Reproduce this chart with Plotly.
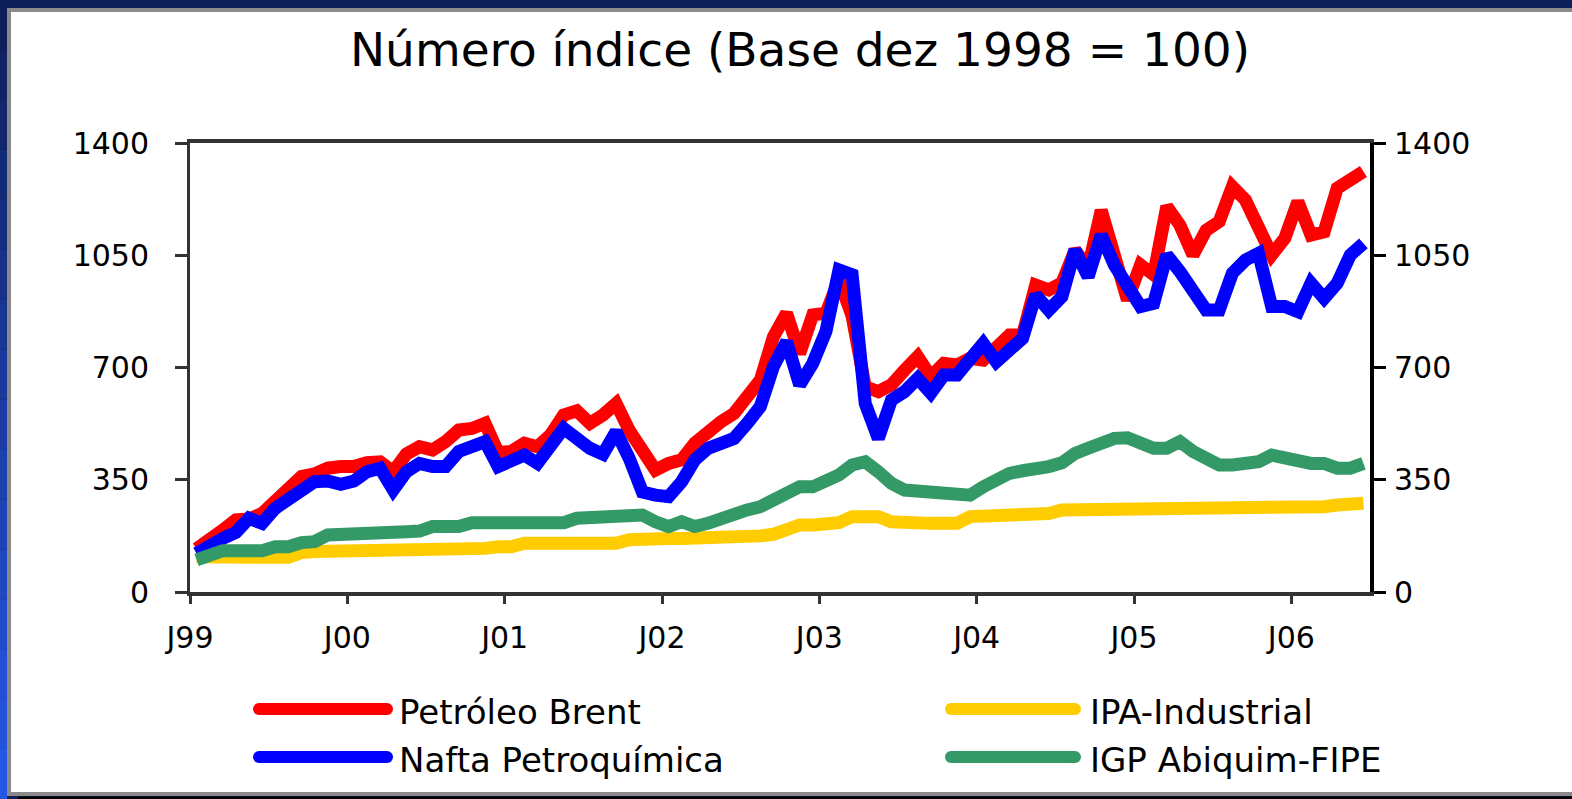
import plotly.graph_objects as go

# ---------------- data (monthly, Jan 1999 .. Jun 2006) ----------------
month_index = list(range(90))
tick_pos = [0, 12, 24, 36, 48, 60, 72, 84]
tick_text = ["J99", "J00", "J01", "J02", "J03", "J04", "J05", "J06"]
y_ticks = [0, 350, 700, 1050, 1400]

brent = [135, 170, 193, 225, 228, 245, 287, 320, 360, 368,
         386, 391, 391, 403, 406, 375, 430, 453, 443, 469,
         505, 510, 526, 435, 438, 464, 453, 490, 552, 565,
         526, 552, 588, 504, 432, 380, 401, 412, 464, 500,
         531, 557, 604, 661, 796, 869, 744, 864, 869, 975,
         860, 640, 625, 646, 692, 734, 672, 713, 708, 729,
         723, 765, 801, 801, 957, 942, 963, 1066, 1010, 1190,
         1051, 911, 1020, 989, 1202, 1144, 1051, 1128, 1155, 1264,
         1222, 1128, 1051, 1103, 1217, 1113, 1123, 1259, 1285, 1311]

nafta = [120, 147, 167, 186, 230, 214, 261, 289, 323, 344,
         346, 336, 346, 375, 386, 318, 375, 401, 391, 391,
         438, 458, 469, 391, 412, 427, 401, 448, 510, 479,
         448, 430, 500, 417, 312, 302, 297, 344, 412, 448,
         469, 479, 526, 578, 703, 781, 646, 713, 812, 1004,
         989, 588, 479, 599, 625, 666, 620, 677, 677, 729,
         775, 718, 760, 791, 926, 879, 921, 1066, 983, 1113,
         1020, 947, 890, 900, 1051, 999, 931, 879, 879, 994,
         1035, 1056, 890, 890, 874, 963, 916, 963, 1051, 1087]

ipa = [110, 108, 108, 108, 108, 108, 108, 108, 123, 126,
       126, 126, 126, 126, 126, 131, 136, 136, 136, 136,
       136, 136, 136, 141, 141, 152, 152, 152, 152, 152,
       152, 152, 152, 163, 167, 167, 167, 167, 167, 167,
       167, 167, 167, 175, 180, 193, 209, 209, 216, 216,
       235, 235, 235, 219, 214, 214, 214, 214, 214, 235,
       235, 235, 237, 245, 245, 245, 256, 256, 256, 266,
       266, 266, 266, 266, 266, 266, 266, 266, 266, 266,
       266, 266, 266, 266, 266, 266, 266, 271, 277, 277]

igp = [100, 115, 129, 129, 129, 129, 141, 141, 154, 157,
       178, 178, 188, 188, 188, 188, 188, 190, 204, 204,
       204, 216, 216, 214, 214, 214, 214, 214, 216, 230,
       230, 230, 240, 240, 240, 219, 204, 219, 204, 214,
       230, 245, 256, 266, 287, 312, 328, 328, 344, 365,
       396, 406, 375, 339, 318, 313, 313, 302, 299, 302,
       328, 354, 370, 378, 380, 391, 403, 432, 448, 464,
       479, 481, 464, 448, 448, 469, 438, 412, 396, 396,
       396, 406, 427, 417, 406, 401, 401, 386, 386, 401]

series_names = ["Petróleo Brent", "IPA-Industrial", "Nafta Petroquímica", "IGP Abiquim-FIPE"]
series_colors = ["#ff0000", "#ffcc00", "#0000ff", "#339966"]

# ---------------- figure geometry ----------------
W, H = 1572, 799
L, R, T, B = 190, 202, 143, 207
PW, PH = W - L - R, H - T - B


def px(x):
    return (x - L) / PW


def py(y):
    return (H - B - y) / PH


FONT = "DejaVu Sans"
x_centers = [m + 0.5 for m in month_index]

fig = go.Figure()
data_sets = [brent, ipa, nafta, igp]
axes_for = ["y", "y", "y", "y2"]
for name, vals, col, ax in zip(series_names, data_sets, series_colors, axes_for):
    fig.add_trace(go.Scatter(x=x_centers, y=vals, name=name, mode="lines",
                             line=dict(color=col, width=13), yaxis=ax,
                             showlegend=False, hoverinfo="skip"))

shapes = []
# white slide panel with grey frame
shapes.append(dict(type="rect", xref="paper", yref="paper",
                   x0=px(9), x1=px(1610), y0=py(794), y1=py(10),
                   fillcolor="white", line=dict(color="#8a8a8a", width=4), layer="below"))
# left blue gradient strip
nb = 16
c0 = (15, 31, 90)
c1 = (37, 87, 230)
for k in range(nb):
    t = k / (nb - 1)
    col = "rgb(%d,%d,%d)" % tuple(int(c0[j] + (c1[j] - c0[j]) * t) for j in range(3))
    shapes.append(dict(type="rect", xref="paper", yref="paper",
                       x0=px(0), x1=px(7), y0=py(H * (k + 1) / nb), y1=py(H * k / nb),
                       fillcolor=col, line=dict(width=0), layer="below"))
# black bottom strip
shapes.append(dict(type="rect", xref="paper", yref="paper",
                   x0=px(18), x1=px(W), y0=py(H), y1=py(796.5),
                   fillcolor="black", line=dict(width=0), layer="below"))

# manual legend (long line samples)
legend_rows = [(709, 0, 1), (757, 2, 3)]
annotations = []
for yy, a, b in legend_rows:
    for idx, lx0, lx1, tx in [(a, 259, 387, 397), (b, 951, 1075, 1088)]:
        shapes.append(dict(type="line", xref="paper", yref="paper",
                           x0=px(lx0), x1=px(lx1), y0=py(yy), y1=py(yy),
                           line=dict(color=series_colors[idx], width=12), layer="above"))
        shapes.append(dict(type="circle", xref="paper", yref="paper",
                           x0=px(lx0 - 6), x1=px(lx0 + 6), y0=py(yy + 6), y1=py(yy - 6),
                           fillcolor=series_colors[idx], line=dict(width=0), layer="above"))
        shapes.append(dict(type="circle", xref="paper", yref="paper",
                           x0=px(lx1 - 6), x1=px(lx1 + 6), y0=py(yy + 6), y1=py(yy - 6),
                           fillcolor=series_colors[idx], line=dict(width=0), layer="above"))
        annotations.append(dict(xref="paper", yref="paper", x=px(tx), y=py(yy + 3),
                                xanchor="left", yanchor="middle", showarrow=False,
                                text=series_names[idx],
                                font=dict(family=FONT, size=34, color="black")))

tickfont = dict(family=FONT, size=30, color="black")

fig.update_layout(
    width=W, height=H,
    margin=dict(l=L, r=R, t=T, b=B, pad=0),
    paper_bgcolor="#0f1f5a",
    plot_bgcolor="white",
    showlegend=False,
    title=dict(text="Número índice (Base dez 1998 = 100)",
               font=dict(family=FONT, size=47, color="black"),
               x=800 / W, xref="container", xanchor="center",
               y=1 - 50 / H, yref="container", yanchor="middle"),
    xaxis=dict(range=[0, 90], tickmode="array", tickvals=tick_pos, ticktext=tick_text,
               showline=True, linecolor="#333333", linewidth=4, mirror=True,
               ticks="outside", ticklen=8, tickwidth=3, tickcolor="#333333",
               ticklabelstandoff=8, tickfont=tickfont,
               showgrid=False, zeroline=False),
    yaxis=dict(range=[0, 1400], tickmode="array", tickvals=y_ticks,
               showline=True, linecolor="#333333", linewidth=3,
               ticks="outside", ticklen=12, tickwidth=3, tickcolor="#333333",
               ticklabelstandoff=20, tickfont=tickfont,
               showgrid=False, zeroline=False),
    yaxis2=dict(range=[0, 1400], tickmode="array", tickvals=y_ticks,
                overlaying="y", side="right", anchor="x",
                showline=True, linecolor="black", linewidth=4,
                ticks="outside", ticklen=12, tickwidth=3, tickcolor="black",
                ticklabelstandoff=2, tickfont=tickfont,
                showgrid=False, zeroline=False),
    yaxis3=dict(range=[0, 1400], tickmode="array", tickvals=y_ticks,
                overlaying="y", side="right", anchor="x",
                showline=False, ticks="inside", ticklen=12, tickwidth=3, tickcolor="black",
                showticklabels=False, showgrid=False, zeroline=False),
    shapes=shapes,
    annotations=annotations,
)

fig.write_html("out.html", config={"displayModeBar": False},
               post_script="document.body.style.margin='0';document.body.style.overflow='hidden';")
